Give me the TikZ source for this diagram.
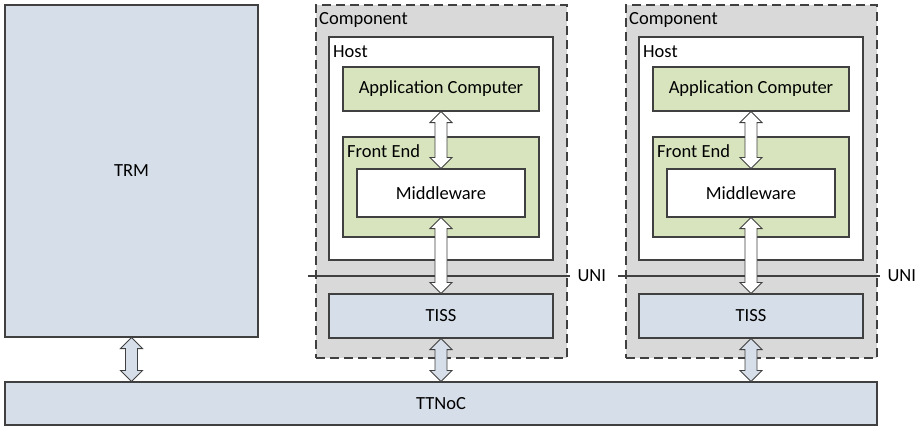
\documentclass[tikz,border=0pt]{standalone}
\usepackage{fontspec}
\setmainfont{Carlito}
\usetikzlibrary{calc}

\definecolor{compgray}{HTML}{D9D9D9}
\definecolor{hostgreen}{HTML}{D7E4BD}
\definecolor{netblue}{HTML}{D6DEE9}
\definecolor{edgegray}{HTML}{404040}

% double block arrow, drawn downwards from #2 to #3
\newcommand\blockarrow[3]{%
\draw[arrowline,fill=#1] let \p1=(#2), \p2=(#3) in
  (\x1,\y1) -- (\x1+11pt,\y1-11pt) -- (\x1+6pt,\y1-11pt)
  -- (\x1+6pt,\y2+11pt) -- (\x1+11pt,\y2+11pt) -- (\x1,\y2)
  -- (\x1-11pt,\y2+11pt) -- (\x1-6pt,\y2+11pt)
  -- (\x1-6pt,\y1-11pt) -- (\x1-11pt,\y1-11pt) -- cycle;}

\begin{document}
\begin{tikzpicture}[x=1pt,y=-1pt,
  box/.style={draw=edgegray,line width=1.1pt,inner sep=0pt,font=\fontsize{18.5}{22}\selectfont},
  comp/.style={draw=edgegray,line width=1.1pt,dash pattern=on 9pt off 5pt,fill=compgray},
  lbl/.style={inner sep=0pt,anchor=base west,font=\fontsize{18.5}{22}\selectfont},
  arrowline/.style={draw=edgegray,line width=0.9pt},
  uniline/.style={draw=edgegray,line width=1.1pt}]
\useasboundingbox (0,0) rectangle (916,426);

% left side and network
\node[box,fill=netblue,minimum width=253pt,minimum height=332pt] (trm) at (131.5,171) {TRM};
\node[box,fill=netblue,minimum width=872pt,minimum height=43pt] (ttnoc) at (441,403.5) {TTNoC};

% component 1
\node[comp,minimum width=251pt,minimum height=353pt] (comp1) at (441.5,181.5) {};
\node[lbl] (comp1lbl) at (319,24) {Component};
\node[box,fill=white,minimum width=224pt,minimum height=223pt] (host1) at (441,148.5) {};
\node[lbl] (host1lbl) at (333,57) {Host};
\node[box,fill=hostgreen,minimum width=196pt,minimum height=44pt] (app1) at (441,89) {Application Computer};
\node[box,fill=hostgreen,minimum width=196pt,minimum height=100pt] (fe1) at (441,187) {};
\node[lbl] (fe1lbl) at (347,157) {Front End};
\node[box,fill=white,minimum width=168pt,minimum height=48pt] (mw1) at (441,193) {Middleware};
\node[box,fill=netblue,minimum width=224pt,minimum height=44pt] (tiss1) at (441,316) {TISS};
\coordinate (uni1a) at (308,276);
\draw[uniline] (uni1a) -- (570,276) node[anchor=west,inner sep=0pt,xshift=7pt,font=\fontsize{18.5}{22}\selectfont] (uni1) {UNI};

% component 2
\node[comp,minimum width=251pt,minimum height=353pt] (comp2) at (751.5,181.5) {};
\node[lbl] (comp2lbl) at (629,24) {Component};
\node[box,fill=white,minimum width=224pt,minimum height=223pt] (host2) at (751,148.5) {};
\node[lbl] (host2lbl) at (643,57) {Host};
\node[box,fill=hostgreen,minimum width=196pt,minimum height=44pt] (app2) at (751,89) {Application Computer};
\node[box,fill=hostgreen,minimum width=196pt,minimum height=100pt] (fe2) at (751,187) {};
\node[lbl] (fe2lbl) at (657,157) {Front End};
\node[box,fill=white,minimum width=168pt,minimum height=48pt] (mw2) at (751,193) {Middleware};
\node[box,fill=netblue,minimum width=224pt,minimum height=44pt] (tiss2) at (751,316) {TISS};
\coordinate (uni2a) at (618,276);
\draw[uniline] (uni2a) -- (880,276) node[anchor=west,inner sep=0pt,xshift=7pt,font=\fontsize{18.5}{22}\selectfont] (uni2) {UNI};

% arrows
\blockarrow{white}{app1.south}{mw1.north}
\blockarrow{white}{mw1.south}{tiss1.north}
\blockarrow{netblue}{tiss1.south}{tiss1.south |- ttnoc.north}
\blockarrow{white}{app2.south}{mw2.north}
\blockarrow{white}{mw2.south}{tiss2.north}
\blockarrow{netblue}{tiss2.south}{tiss2.south |- ttnoc.north}
\blockarrow{netblue}{trm.south}{trm.south |- ttnoc.north}
\end{tikzpicture}
\end{document}
